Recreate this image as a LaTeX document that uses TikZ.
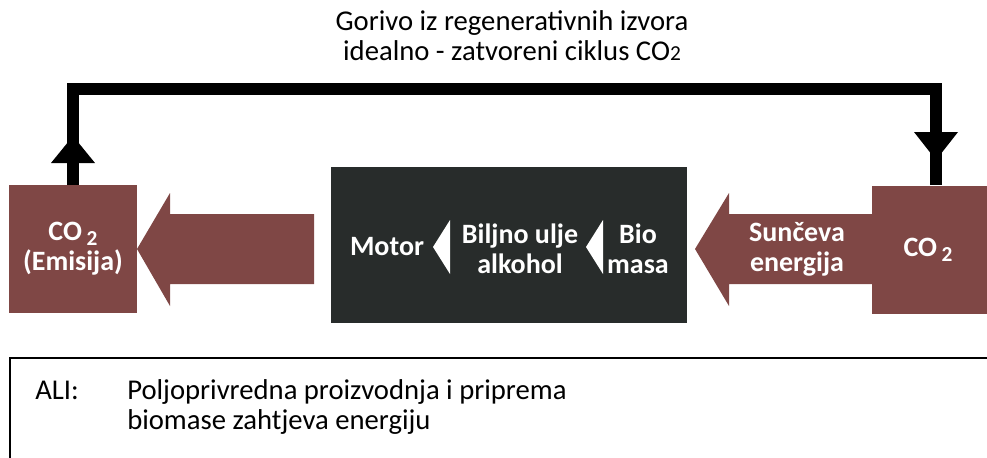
\documentclass[tikz,border=0pt]{standalone}
\usepackage{fontspec}
\setmainfont{Carlito}
\definecolor{brownc}{HTML}{7F4745}
\definecolor{darkc}{HTML}{282C2B}
\tikzset{
  brownbox/.style={fill=brownc, draw=none, inner sep=0pt, minimum width=96pt, minimum height=96pt, text=white, font=\fontsize{21}{22.5}\selectfont\bfseries, align=center},
  darkbox/.style={fill=darkc, draw=none, inner sep=0pt, minimum width=267pt, minimum height=117pt},
  wtxt/.style={text=white, font=\fontsize{21}{22.5}\selectfont\bfseries, align=center, inner sep=0pt},
  ntxt/.style={text=black, font=\fontsize{21.5}{22.5}\selectfont, align=left, inner sep=0pt},
  loopline/.style={line width=9pt, line join=miter, draw=black},
  bigarrow/.style={fill=brownc, draw=none},
  tinyhead/.style={fill=white, draw=none},
}
\newcommand{\cotwo}{CO\,\raisebox{-0.35ex}{\fontsize{16}{16}\selectfont 2}}
\begin{document}
\begin{tikzpicture}[x=0.75pt, y=-0.75pt]
\useasboundingbox (0,0) rectangle (987,457);
% title
\node[ntxt, align=center] (title) at (512,36) {Gorivo iz regenerativnih izvora\\idealno - zatvoreni ciklus CO{\fontsize{16}{16}\selectfont 2}};
% boxes
\node[brownbox] (emis) at (73,249) {\cotwo\\(Emisija)};
\node[brownbox] (src) at (936,249.5) {\cotwo\hspace*{12pt}};
\node[darkbox] (proc) at (509,245) {};
% big arrows
\fill[bigarrow] (137,249) -- (170,193) -- (170,214) -- (314,214) -- (314,284) -- (170,284) -- (170,306) -- cycle;
\fill[bigarrow] (695,249) -- (729,193) -- (729,214) -- (873,214) -- (873,284) -- (729,284) -- (729,306) -- cycle;
\node[wtxt] (sun) at (797,249) {Sunčeva\\energija};
% inner texts
\node[wtxt] (motor) at (387,247) {Motor};
\node[wtxt] (ulje) at (520,249) {Biljno ulje\\alkohol};
\node[wtxt] (bio) at (638,249) {Bio\\masa};
\fill[tinyhead] (433,247) -- (450,220) -- (450,274) -- cycle;
\fill[tinyhead] (586,247) -- (603,220) -- (603,274) -- cycle;
% loop
\coordinate (top) at (500,89);
\draw[loopline] (emis.north) |- (top) -| (src.north);
\fill (73,136) -- (95,163) -- (51,163) -- cycle;
\fill (914,132) -- (958,132) -- (936,160) -- cycle;
% bottom box
\draw[line width=2.2pt] (10,470) -- (10,358) -- (1000,358);
\node[ntxt, anchor=west] (note) at (35,408) {\begin{tabular}{@{}p{69pt}@{}l@{}}ALI: & Poljoprivredna proizvodnja i priprema\\ & biomase zahtjeva energiju\end{tabular}};
\end{tikzpicture}
\end{document}
